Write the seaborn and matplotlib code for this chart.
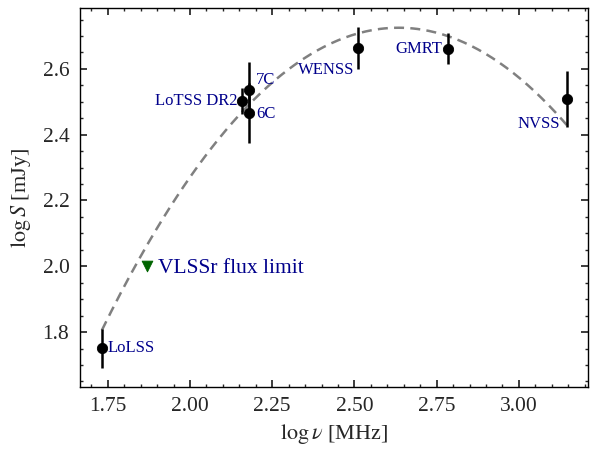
import matplotlib
matplotlib.use("Agg")
import matplotlib.pyplot as plt
import numpy as np
import pandas as pd
import seaborn as sns
from matplotlib.ticker import MultipleLocator

# measured flux densities
surveys = ["LoLSS", "LoTSS DR2", "7C", "6C", "WENSS", "GMRT", "NVSS"]
log_nu = [1.732, 2.158, 2.179, 2.179, 2.512, 2.785, 3.146]
log_s = [1.751, 2.503, 2.536, 2.466, 2.664, 2.661, 2.509]
log_s_err = [0.06, 0.04, 0.085, 0.09, 0.063, 0.047, 0.085]

# label offsets (points) and alignment
label_dx = [4, -3, 5, 5, -3, -4, -5]
label_dy = [0, 0, 7, -1, -16, 0, -18]
label_ha = ["left", "right", "left", "left", "right", "right", "right"]

# VLSSr upper limit
vlss_nu = [1.869]
vlss_s = [2.0]

# parabolic fit: log S = a (log nu - x0)^2 + b
fit_a, fit_x0, fit_b = -1.13, 2.634, 2.725

sns.set_theme(style="ticks")
plt.rcParams.update({
    "font.family": ["Liberation Serif", "DejaVu Serif"],
    "mathtext.fontset": "stix",
    "xtick.direction": "in",
    "ytick.direction": "in",
    "xtick.top": True,
    "ytick.right": True,
    "xtick.minor.visible": True,
    "ytick.minor.visible": True,
    "xtick.major.size": 5,
    "ytick.major.size": 5,
    "xtick.minor.size": 2.5,
    "ytick.minor.size": 2.5,
    "axes.edgecolor": "black",
    "axes.linewidth": 1.0,
})

df = pd.DataFrame({"survey": surveys, "log_nu": log_nu, "log_s": log_s, "err": log_s_err})

fig = plt.figure(figsize=(6, 4.57), dpi=100)
ax = fig.add_axes([0.133, 0.153, 0.847, 0.8295])

xfit = np.linspace(min(log_nu), max(log_nu), 200)
yfit = fit_a * (xfit - fit_x0) ** 2 + fit_b
sns.lineplot(x=xfit, y=yfit, ax=ax, color="gray", linestyle=(0, (4, 2.5)), linewidth=1.8)

ax.errorbar(df["log_nu"], df["log_s"], yerr=df["err"], fmt="none",
            ecolor="black", elinewidth=1.8, capsize=0, zorder=3)
sns.scatterplot(data=df, x="log_nu", y="log_s", ax=ax, color="black", s=55,
                edgecolor="black", zorder=4)

sns.scatterplot(x=vlss_nu, y=vlss_s, ax=ax, marker="v", color="darkgreen", s=60,
                edgecolor="darkgreen", zorder=4)
ax.annotate("VLSSr flux limit", (vlss_nu[0], vlss_s[0]), xytext=(8, -1.5),
            textcoords="offset points", ha="left", va="center",
            color="darkblue", fontsize=15.5)

for name, x, y, dx, dy, ha in zip(surveys, log_nu, log_s, label_dx, label_dy, label_ha):
    ax.annotate(name, (x, y), xytext=(dx, dy), textcoords="offset points",
                ha=ha, va="center", color="darkblue", fontsize=12)

ax.set_xlim(1.665, 3.21)
ax.set_ylim(1.633, 2.785)
ax.xaxis.set_major_locator(MultipleLocator(0.25))
ax.xaxis.set_minor_locator(MultipleLocator(0.05))
ax.yaxis.set_major_locator(MultipleLocator(0.2))
ax.yaxis.set_minor_locator(MultipleLocator(0.05))
ax.tick_params(which="major", labelsize=15.5, pad=7.5)
ax.set_xlabel(r"$\log\nu$ [MHz]", fontsize=16, labelpad=4)
ax.set_ylabel(r"$\log S$ [mJy]", fontsize=16, labelpad=7)

fig.savefig("out.png", dpi=100)
plt.close(fig)
